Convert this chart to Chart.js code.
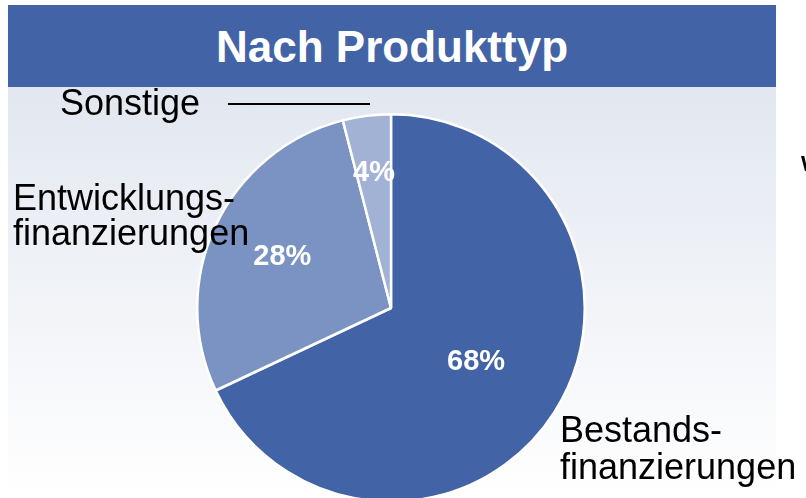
<!DOCTYPE html>
<html>
<head>
<meta charset="utf-8">
<script src="https://cdn.jsdelivr.net/npm/chart.js@4"></script>
<style>
  body { margin: 0; background: #fff; font-family: "Liberation Sans", Arial, sans-serif; }
  #wrap { position: relative; width: 806px; height: 498px; overflow: hidden; }
  #panel { position: absolute; left: 8px; top: 87px; width: 768px; height: 411px;
           background: linear-gradient(#e2e7f0, #ffffff); }
  #title { position: absolute; left: 8px; top: 5px; width: 768px; height: 82px; background: #4263a6;
           color: #fff; font-weight: bold; font-size: 44px; text-align: center; line-height: 84px; }
  #box { position: absolute; left: 0; top: 0; width: 806px; height: 520px; }
  .lbl { position: absolute; color: #000; font-size: 36px; line-height: 35px; white-space: nowrap; }
  #lead { position: absolute; left: 228px; top: 103px; width: 142px; border-top: 2px solid #000; }
</style>
</head>
<body>
<div id="wrap">
  <div id="panel"></div>
  <div id="title">Nach Produkttyp</div>
  <div id="box"><canvas id="stage"></canvas></div>
  <div class="lbl" style="left:60px; top:85px;">Sonstige</div>
  <div id="lead"></div>
  <div class="lbl" style="left:13px; top:180px;">Entwicklungs-<br>finanzierungen</div>
  <div class="lbl" style="left:560px; top:411px; line-height:37px;">Bestands-<br>finanzierungen</div>
  <div class="lbl" style="left:801px; top:146px; font-size:22px; font-weight:bold;">W</div>
</div>
<script>
// Daten
let kategorien = ["Bestandsfinanzierungen", "Entwicklungsfinanzierungen", "Sonstige"];
let anteile = [68, 28, 4];
let farben = ["#4263a6", "#7a93c3", "#a2b2d5"];

// Prozent-Beschriftung in den Segmenten
const prozentPlugin = {
  id: 'prozent',
  afterDatasetsDraw(chart) {
    const ctx = chart.ctx;
    const meta = chart.getDatasetMeta(0);
    const faktor = [0.52, 0.62, 0.70];
    ctx.save();
    ctx.fillStyle = '#fff';
    ctx.font = 'bold 29px "Liberation Sans", Arial, sans-serif';
    ctx.textAlign = 'center';
    ctx.textBaseline = 'middle';
    meta.data.forEach((arc, i) => {
      const p = arc.getProps(['x', 'y', 'startAngle', 'endAngle', 'outerRadius'], true);
      const a = (p.startAngle + p.endAngle) / 2;
      const r = p.outerRadius * faktor[i];
      ctx.fillText(anteile[i] + '%', p.x + Math.cos(a) * r, p.y + Math.sin(a) * r);
    });
    ctx.restore();
  }
};

var canvas = document.getElementById('stage');
var chart = new Chart(canvas, {
  type: 'pie',
  data: {
    labels: kategorien,
    datasets: [{
      data: anteile,
      backgroundColor: farben,
      borderColor: '#fff',
      borderWidth: 2.5
    }]
  },
  options: {
    responsive: true,
    maintainAspectRatio: false,
    animation: false,
    layout: { padding: { left: 196, right: 220, top: 113, bottom: 17 } },
    plugins: {
      legend: { display: false },
      tooltip: { enabled: false },
      title: { display: false }
    }
  },
  plugins: [prozentPlugin]
});
</script>
</body>
</html>
